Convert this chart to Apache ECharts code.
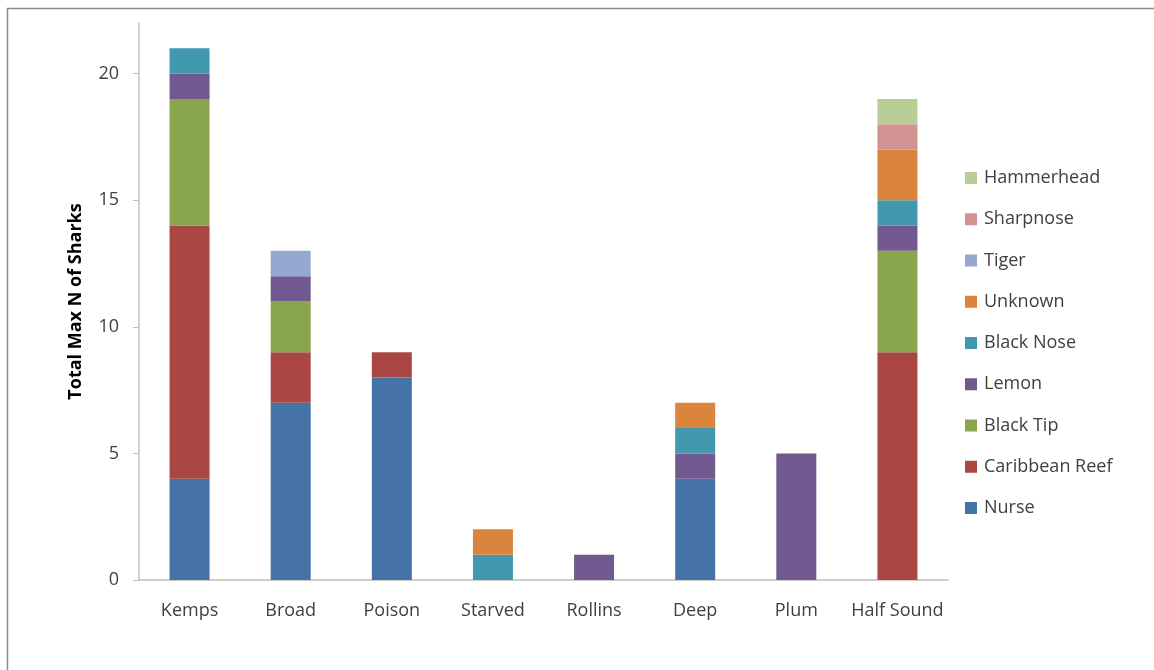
<!DOCTYPE html>
<html>
<head>
<meta charset="utf-8">
<style>
  html, body { margin: 0; padding: 0; background: #fff; }
  #chart { width: 1154px; height: 670px; }
</style>
<script src="https://cdn.jsdelivr.net/npm/echarts@6/dist/echarts.min.js"></script>
</head>
<body>
<div id="chart"></div>
<script>
// Sites along the x axis
const sites = ['Kemps', 'Broad', 'Poison', 'Starved', 'Rollins', 'Deep', 'Plum', 'Half Sound'];

// Max N per species at each site (stack order, bottom to top)
const nurse         = [4, 7, 8, 0, 0, 4, 0, 0];
const caribbeanReef = [10, 2, 1, 0, 0, 0, 0, 9];
const blackTip      = [5, 2, 0, 0, 0, 0, 0, 4];
const lemon         = [1, 1, 0, 0, 1, 1, 5, 1];
const blackNose     = [1, 0, 0, 1, 0, 1, 0, 1];
const unknown       = [0, 0, 0, 1, 0, 1, 0, 2];
const tiger         = [0, 1, 0, 0, 0, 0, 0, 0];
const sharpnose     = [0, 0, 0, 0, 0, 0, 0, 1];
const hammerhead    = [0, 0, 0, 0, 0, 0, 0, 1];

const yTicks = [0, 5, 10, 15, 20];

const speciesNames = ['Nurse', 'Caribbean Reef', 'Black Tip', 'Lemon', 'Black Nose', 'Unknown', 'Tiger', 'Sharpnose', 'Hammerhead'];
const speciesValues = [nurse, caribbeanReef, blackTip, lemon, blackNose, unknown, tiger, sharpnose, hammerhead];
const speciesColors = ['#4572A7', '#AA4643', '#89A54E', '#71588F', '#4198AF', '#DB843D', '#93A9CF', '#D19392', '#B9CD96'];

const textColor = '#404040';
const font = '"Open Sans", "Liberation Sans", sans-serif';

const series = speciesNames.map((name, i) => ({
  name: name,
  type: 'bar',
  stack: 'total',
  barWidth: 40,
  itemStyle: { color: speciesColors[i] },
  data: speciesValues[i].map(v => (v === 0 ? null : v))
}));

const chart = echarts.init(document.getElementById('chart'), null, { renderer: 'canvas' });
chart.setOption({
  animation: false,
  backgroundColor: '#fff',
  textStyle: { fontFamily: font, color: textColor },
  graphic: [{
    type: 'rect',
    shape: { x: 7.5, y: 8.5, width: 1200, height: 700 },
    style: { fill: null, stroke: '#8a8a8a', lineWidth: 1.5 },
    silent: true,
    z: -1
  }],
  grid: { left: 139, right: 206, top: 23, bottom: 90, containLabel: false },
  legend: {
    orient: 'vertical',
    left: 960,
    top: 163,
    itemWidth: 12,
    itemHeight: 12,
    itemGap: 21.25,
    icon: 'rect',
    data: speciesNames.slice().reverse(),
    textStyle: { fontSize: 18, color: textColor, fontFamily: font, lineHeight: 20, padding: [0, 0, 0, 2] }
  },
  xAxis: {
    type: 'category',
    data: sites,
    axisLine: { lineStyle: { color: '#BFBFBF', width: 1.5 } },
    axisTick: { show: false },
    axisLabel: { fontSize: 18, color: textColor, margin: 22, interval: 0 }
  },
  yAxis: {
    type: 'value',
    min: 0,
    max: 22,
    name: 'Total Max N of Sharks',
    nameLocation: 'middle',
    nameGap: 54,
    nameTextStyle: { fontSize: 18, fontWeight: 'bold', color: '#000' },
    splitLine: { show: false },
    axisLine: { show: true, lineStyle: { color: '#BFBFBF', width: 1.5 } },
    axisTick: { show: true, length: 6, lineStyle: { color: '#BFBFBF' }, customValues: yTicks },
    axisLabel: { fontSize: 18, color: textColor, margin: 20, customValues: yTicks }
  },
  series: series
});
</script>
</body>
</html>
